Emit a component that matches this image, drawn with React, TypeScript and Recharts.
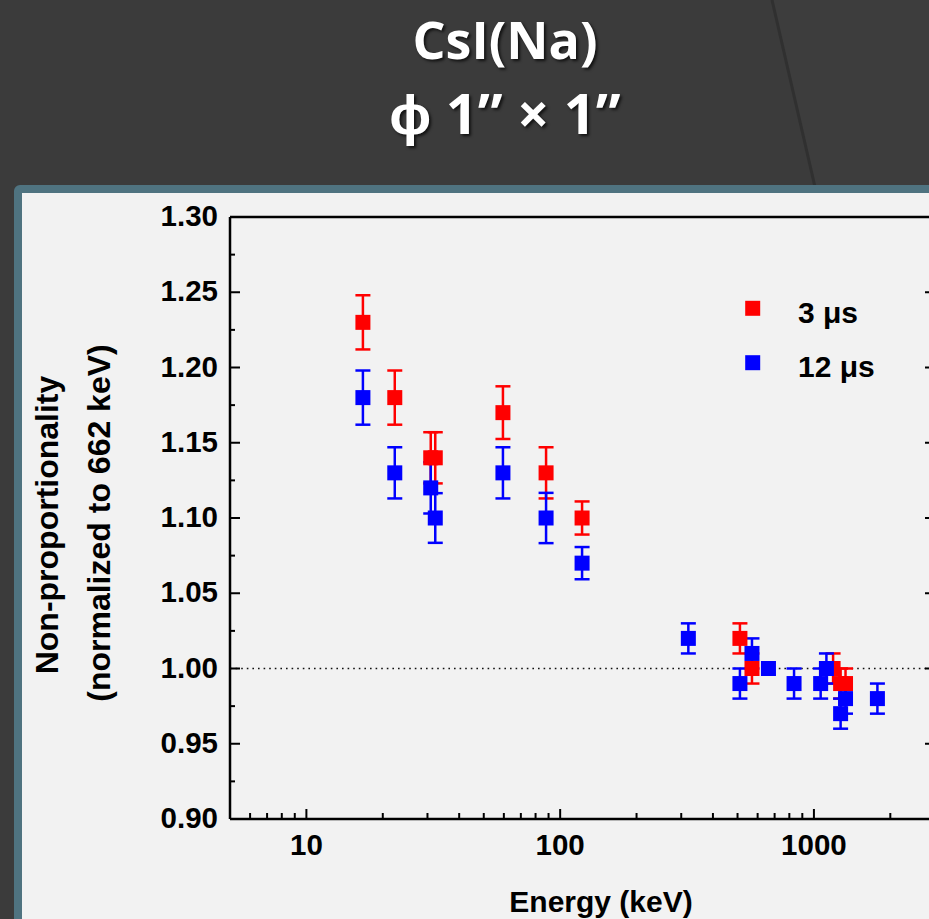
import React from 'react';
import { ComposedChart, Scatter, XAxis, YAxis, ErrorBar, ReferenceLine, Legend } from 'recharts';

// 3 us shaping time
const redEnergy = [16.7, 22.3, 30.9, 32.2, 59.5, 88, 122, 511, 570, 1190, 1274, 1332];
const redValue = [1.23, 1.18, 1.14, 1.14, 1.17, 1.13, 1.1, 1.02, 1.0, 1.0, 0.99, 0.99];
const redError = [0.018, 0.018, 0.017, 0.017, 0.0175, 0.017, 0.011, 0.01, 0.01, 0.01, 0.01, 0.01];

// 12 us shaping time
const blueEnergy = [16.7, 22.3, 30.9, 32.2, 59.5, 88, 122, 320, 511, 570, 662, 835, 1063, 1120, 1274, 1332, 1779];
const blueValue = [1.18, 1.13, 1.12, 1.1, 1.13, 1.1, 1.07, 1.02, 0.99, 1.01, 1.0, 0.99, 0.99, 1.0, 0.97, 0.98, 0.98];
const blueError = [0.018, 0.017, 0.017, 0.0165, 0.017, 0.0167, 0.0107, 0.01, 0.01, 0.01, 0, 0.01, 0.01, 0.01, 0.01, 0.01, 0.01];

const seriesNames = ['3 μs', '12 μs'];

const xMajorTicks = [10, 100, 1000];
const xMinorTicks = [5, 6, 7, 8, 9, 20, 30, 40, 50, 60, 70, 80, 90, 200, 300, 400, 500, 600, 700, 800, 900, 2000, 3000];
const yMajorTicks = [0.9, 0.95, 1.0, 1.05, 1.1, 1.15, 1.2, 1.25, 1.3];
const yMinorTicks = [0.925, 0.975, 1.025, 1.075, 1.125, 1.175, 1.225, 1.275];

const xTicks = [...xMajorTicks, ...xMinorTicks].sort((a, b) => a - b);
const yTicks = [...yMajorTicks, ...yMinorTicks].sort((a, b) => a - b);

const redData = redEnergy.map((e, i) => ({ energy: e, value: redValue[i], err: redError[i] }));
const blueData = blueEnergy.map((e, i) => ({ energy: e, value: blueValue[i], err: blueError[i] }));

const font = '"Liberation Sans", Arial, Helvetica, sans-serif';
const axisLine = { stroke: '#000', strokeWidth: 2.5 };

const isMajor = (list: number[], v: number) => list.some((t) => Math.abs(t - v) < 1e-9);

function BottomTick({ x, y, payload }: any) {
  const major = isMajor(xMajorTicks, payload.value);
  return (
    <g>
      <line x1={x} x2={x} y1={y} y2={y - (major ? 10 : 6)} stroke="#000" strokeWidth={2} />
      {major && (
        <text x={x} y={y + 36} textAnchor="middle" fontFamily={font} fontWeight="bold" fontSize={29.5} fill="#000">
          {payload.value}
        </text>
      )}
    </g>
  );
}

function TopTick({ x, y, payload }: any) {
  const major = isMajor(xMajorTicks, payload.value);
  return <line x1={x} x2={x} y1={y} y2={y + (major ? 10 : 6)} stroke="#000" strokeWidth={2} />;
}

function LeftTick({ x, y, payload }: any) {
  const major = isMajor(yMajorTicks, payload.value);
  return (
    <g>
      <line x1={x} x2={x + (major ? 10 : 5)} y1={y} y2={y} stroke="#000" strokeWidth={2} />
      {major && (
        <text x={x - 12} y={y + 9} textAnchor="end" fontFamily={font} fontWeight="bold" fontSize={29.5} fill="#000">
          {Number(payload.value).toFixed(2)}
        </text>
      )}
    </g>
  );
}

function RightTick({ x, y, payload }: any) {
  const major = isMajor(yMajorTicks, payload.value);
  return <line x1={x} x2={x - (major ? 10 : 5)} y1={y} y2={y} stroke="#000" strokeWidth={2} />;
}

const square = (color: string) => (props: any) => (
  <rect x={props.cx - 7.5} y={props.cy - 7.5} width={15} height={15} fill={color} />
);

const renderLegend = ({ payload }: any) => {
  const items = [...(payload || [])].sort(
    (a: any, b: any) => seriesNames.indexOf(a.value) - seriesNames.indexOf(b.value)
  );
  return (
    <svg width={200} height={110}>
      {items.map((entry: any, i: number) => (
        <g key={i}>
          <rect x={5.2} y={10.8 + i * 54.4} width={15} height={15} fill={entry.color} />
          <text x={58} y={33.3 + i * 53.4} fontFamily={font} fontWeight="bold" fontSize={30} fill="#000">
            {entry.value}
          </text>
        </g>
      ))}
    </svg>
  );
};

export default function App() {
  return (
    <div style={{ position: 'fixed', left: 0, top: 0, width: 929, height: 919, overflow: 'hidden', background: '#3b3b3b' }}>
      <svg width={929} height={200} style={{ position: 'absolute', left: 0, top: 0 }}>
        <polygon points="772,0 929,0 929,200 818,200" fill="#3d3d3d" />
        <line x1={772} y1={0} x2={818} y2={200} stroke="#303030" strokeWidth={3} />
      </svg>
      <div
        style={{
          position: 'absolute',
          left: 0,
          top: 14,
          width: 1010,
          textAlign: 'center',
          color: '#fff',
          fontFamily: '"Open Sans", sans-serif',
          fontWeight: 700,
          textShadow: '2px 2px 3px rgba(0,0,0,0.7)',
        }}
      >
        <div style={{ fontSize: 52, lineHeight: '50px', height: 50 }}>CsI(Na)</div>
        <div style={{ fontSize: 56, lineHeight: '56px', marginTop: 20 }}>ϕ 1” × 1”</div>
      </div>
      <div
        style={{
          position: 'absolute',
          left: 14,
          top: 185,
          width: 1000,
          height: 1000,
          boxSizing: 'border-box',
          background: '#f2f2f2',
          border: '8.5px solid #4f7380',
          borderRadius: 6,
        }}
      />
      <div style={{ position: 'absolute', left: 0, top: 0 }}>
        <ComposedChart width={960} height={919} margin={{ top: 212, right: 20, bottom: 40, left: 130 }}>
          <XAxis
            xAxisId="b"
            dataKey="energy"
            type="number"
            scale="log"
            domain={[5, 3000]}
            allowDataOverflow
            ticks={xTicks}
            interval={0}
            tickSize={0}
            tickMargin={0}
            tickLine={false}
            tick={<BottomTick />}
            axisLine={axisLine}
            height={60}
          />
          <XAxis
            xAxisId="t"
            orientation="top"
            type="number"
            scale="log"
            domain={[5, 3000]}
            allowDataOverflow
            ticks={xTicks}
            interval={0}
            tickSize={0}
            tickMargin={0}
            tickLine={false}
            tick={<TopTick />}
            axisLine={axisLine}
            height={5}
          />
          <YAxis
            yAxisId="l"
            dataKey="value"
            type="number"
            domain={[0.9, 1.3]}
            allowDataOverflow
            ticks={yTicks}
            interval={0}
            tickSize={0}
            tickMargin={0}
            tickLine={false}
            tick={<LeftTick />}
            axisLine={axisLine}
            width={100}
          />
          <YAxis
            yAxisId="r"
            orientation="right"
            type="number"
            domain={[0.9, 1.3]}
            allowDataOverflow
            ticks={yTicks}
            interval={0}
            tickSize={0}
            tickMargin={0}
            tickLine={false}
            tick={<RightTick />}
            axisLine={axisLine}
            width={5}
          />
          <ReferenceLine xAxisId="b" yAxisId="l" y={1} stroke="#111" strokeWidth={1.6} strokeDasharray="1.6 4" />
          <Scatter
            name={seriesNames[0]}
            data={redData}
            xAxisId="b"
            yAxisId="l"
            dataKey="value"
            fill="#ff0000"
            shape={square('#ff0000')}
            isAnimationActive={false}
          >
            <ErrorBar dataKey="err" direction="y" width={7.5} strokeWidth={2.5} stroke="#ff0000" isAnimationActive={false} />
          </Scatter>
          <Scatter
            name={seriesNames[1]}
            data={blueData}
            xAxisId="b"
            yAxisId="l"
            dataKey="value"
            fill="#0000ff"
            shape={square('#0000ff')}
            isAnimationActive={false}
          >
            <ErrorBar dataKey="err" direction="y" width={7.5} strokeWidth={2.5} stroke="#0000ff" isAnimationActive={false} />
          </Scatter>
          <Legend
            layout="vertical"
            align="center"
            verticalAlign="middle"
            wrapperStyle={{ left: 740, top: 290, width: 200, height: 110 }}
            content={renderLegend}
          />
          <text x={601} y={912} textAnchor="middle" fontFamily={font} fontWeight="bold" fontSize={30} fill="#000">
            Energy (keV)
          </text>
          <text
            x={58}
            y={525}
            transform="rotate(-90, 58, 525)"
            textAnchor="middle"
            fontFamily={font}
            fontWeight="bold"
            fontSize={32}
            fill="#000"
          >
            Non-proportionality
          </text>
          <text
            x={110}
            y={523}
            transform="rotate(-90, 110, 523)"
            textAnchor="middle"
            fontFamily={font}
            fontWeight="bold"
            fontSize={32}
            fill="#000"
          >
            (normalized to 662 keV)
          </text>
        </ComposedChart>
      </div>
    </div>
  );
}
